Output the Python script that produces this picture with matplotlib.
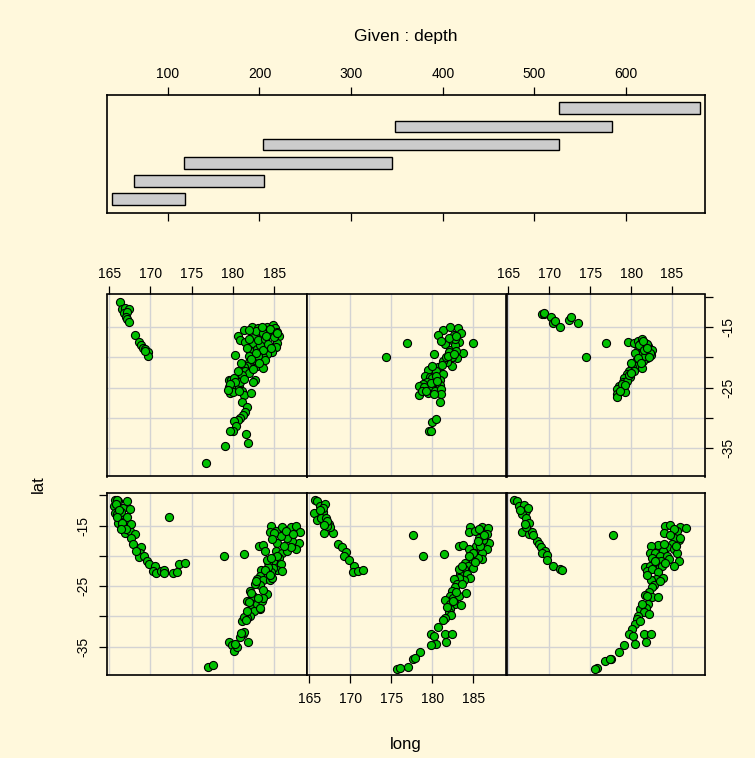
import matplotlib.pyplot as plt

plt.rcParams['font.family'] = ['Liberation Sans', 'DejaVu Sans']

# conditioning intervals of depth (given panel)
depth_lo = [39.5, 63.5, 117.5, 203.5, 347.5, 526.5]
depth_hi = [118.5, 204.5, 344.5, 526.5, 584.5, 680.5]
depth_ticks = [100, 200, 300, 400, 500, 600]

long_ticks = [165, 170, 175, 180, 185]
lat_ticks = [-10, -15, -20, -25, -30, -35]
lat_labels = ['', '-15', '', '-25', '', '-35']

# panel 1 (shallowest, bottom left)
p1_long = [165.7, 166.1, 165.6, 166.3, 165.7, 165.9, 166.7, 167.1, 167.5, 166.5,
           166.9, 166.1, 166.6, 167.3, 166.9, 167.5, 168.1, 167.7, 167.9, 168.9,
           168.7, 168.6, 169.2, 169.6, 169.8, 170.5, 170.3, 170.7, 171.3, 171.6,
           171.7, 172.7, 173.2, 173.5, 174.2, 172.2, 165.9, 166.4, 167.1, 167.6,
           168.3, 178.9, 181.4, 183.2, 183.7, 183.9,
           184.6, 184.5, 185.2, 186.0, 187.0, 187.6, 188.1, 188.0, 187.6, 187.2,
           186.6, 185.9, 185.4, 185.2, 186.0, 186.6, 187.0, 185.6, 184.9, 184.3,
           185.8, 185.4, 186.0, 184.9, 184.6, 184.1, 183.4, 183.3, 182.9, 183.7,
           184.5, 184.8, 183.3, 182.7, 182.1, 182.5, 181.7, 182.3, 182.9, 183.5,
           184.1, 183.7, 183.3, 182.6, 182.1, 181.7, 181.1, 181.3, 181.7, 181.2,
           180.9, 181.4, 181.8, 179.5, 179.9, 180.1, 180.5, 177.0, 177.6, 183.3,
           183.7, 184.3, 184.1,
           165.8, 166.2, 166.0, 166.6, 167.0, 166.4, 185.0, 186.4, 187.3, 184.8,
           186.2, 185.3, 184.6, 183.9, 184.5, 182.8, 182.2, 182.0, 183.0, 181.6,
           181.0, 180.3]
p1_lat = [-10.7, -11.0, -11.8, -12.0, -12.9, -13.1, -12.0, -11.0, -12.3, -13.7,
          -14.2, -14.5, -15.0, -15.2, -16.2, -15.9, -16.3, -17.0, -18.0, -18.6,
          -19.5, -20.2, -20.0, -20.8, -21.4, -21.6, -22.5, -22.9, -22.5, -22.4,
          -22.9, -22.9, -22.6, -21.4, -21.2, -13.5, -10.8, -12.7, -13.6, -14.7,
          -19.2, -20.0, -19.7, -18.4, -18.2, -19.2,
          -15.1, -16.0, -15.9, -15.2, -15.3, -15.1, -16.0, -17.8, -18.9, -17.5,
          -17.0, -16.7, -17.8, -19.2, -19.5, -19.2, -18.6, -20.3, -20.8, -21.0,
          -21.4, -22.4, -22.5, -22.0, -22.7, -23.0, -22.4, -23.3, -23.8, -24.0,
          -24.0, -23.6, -24.8, -24.7, -25.8, -26.6, -27.4, -28.2, -28.0, -27.4,
          -26.3, -26.9, -28.8, -29.1, -29.9, -30.3, -30.7, -30.1, -29.1, -33.0,
          -33.4, -32.6, -34.3, -34.3, -34.8, -35.7, -35.0, -38.4, -38.0, -28.6,
          -25.6, -21.8, -20.6,
          -11.5, -12.4, -13.6, -14.5, -15.5, -15.5, -16.2, -15.9, -16.4, -17.2,
          -18.3, -20.0, -20.3, -22.3, -23.2, -24.2, -26.2, -27.6, -27.0, -30.6,
          -32.8, -34.5]

# panel 2 (bottom middle)
p2_long = [165.7, 166.0, 166.3, 166.95, 165.6, 166.7, 165.9, 166.4, 167.0, 167.4,
           166.8, 167.9, 167.5, 168.5, 169.0, 169.5, 169.2, 169.8, 170.4, 170.3,
           171.0, 171.5, 166.7, 167.2,
           177.7, 178.9, 181.4, 183.2, 183.7, 184.6, 184.5, 185.2, 186.1, 186.8,
           186.7, 186.9, 186.7, 186.2, 185.7, 185.3, 184.5, 185.1, 186.1, 186.1,
           185.5, 184.9, 184.0, 184.4, 185.0, 183.8, 183.4, 184.2, 184.6, 183.8,
           183.2, 182.6, 183.0, 182.8, 182.4, 182.1, 182.5, 183.2, 184.1, 181.6,
           182.1, 182.7, 183.5, 182.2, 182.0, 182.3, 181.5, 181.3, 180.7, 179.8,
           180.2, 181.6, 182.4, 181.7, 180.5, 179.8, 178.5, 177.6, 177.0, 175.7,
           176.0, 177.9, 183.2, 184.6, 185.8,
           166.3, 167.2, 166.8, 185.7, 186.3, 185.5, 184.9, 184.5, 183.6, 183.6,
           182.9, 182.5, 181.8, 185.2]
p2_lat = [-10.7, -10.9, -11.8, -11.5, -12.9, -12.7, -14.1, -13.7, -13.7, -14.7,
          -16.2, -16.2, -15.3, -18.0, -18.6, -19.3, -20.0, -20.7, -21.6, -22.6,
          -22.5, -22.4, -12.0, -15.1,
          -16.5, -20.0, -19.7, -18.4, -18.2, -15.2, -16.0, -15.9, -15.3, -15.4,
          -16.3, -17.8, -18.9, -17.3, -17.0, -18.4, -18.9, -19.5, -19.5, -20.5,
          -20.4, -20.8, -21.1, -21.6, -22.0, -22.2, -23.0, -23.0, -23.6, -24.0,
          -23.6, -23.8, -24.7, -25.2, -25.8, -26.6, -26.9, -26.6, -26.2, -27.3,
          -28.0, -27.9, -28.2, -28.8, -29.3, -29.7, -30.3, -30.6, -31.8, -32.9,
          -33.2, -32.9, -33.0, -34.2, -34.5, -34.7, -35.9, -37.0, -38.3, -38.7,
          -38.5, -36.9, -22.2, -20.0, -18.4,
          -12.4, -14.2, -14.9, -15.6, -16.6, -17.6, -19.6, -20.0, -21.6, -24.6,
          -25.9, -27.5, -28.5, -21.0]

# panel 3 (bottom right)
p3_long = [165.7, 166.1, 166.3, 166.9, 167.1, 166.7, 167.2, 167.5, 166.7, 167.5,
           167.9, 167.2, 168.5, 168.7, 169.0, 169.5, 169.1, 169.7, 169.7, 170.5,
           171.3, 171.6, 167.4,
           177.8, 184.2, 184.8, 186.0, 186.7, 185.6, 184.0, 185.8, 185.2, 185.0,
           184.4, 185.2, 183.3, 182.4, 182.3, 182.9, 183.9, 183.5, 184.4, 182.5,
           183.1, 183.7, 184.6, 185.8, 185.2, 181.7, 182.3, 182.9, 183.5, 183.8,
           181.9, 182.5, 183.3, 183.9, 183.1, 182.4, 182.8, 182.5, 182.2, 181.7,
           182.5, 183.3, 182.1, 181.8, 181.1, 181.6, 182.2, 180.9, 180.7, 180.5,
           180.1, 179.7, 180.2, 181.6, 182.4, 181.8, 180.5, 179.1, 178.5, 177.6,
           176.8, 175.8, 175.6, 177.4, 185.6, 186.0,
           166.4, 167.0, 168.0, 185.2, 184.7, 185.5, 184.0, 182.9, 184.2, 182.0,
           183.5, 182.0, 181.3, 181.1]
p3_lat = [-10.8, -10.9, -11.8, -11.6, -12.5, -13.1, -13.7, -14.5, -16.0, -16.3,
          -16.0, -15.3, -17.5, -18.1, -18.6, -19.2, -19.5, -19.8, -20.7, -21.6,
          -22.2, -22.4, -12.0,
          -16.5, -15.1, -14.9, -15.3, -15.4, -15.9, -16.2, -17.3, -17.0, -18.1,
          -18.6, -18.9, -18.2, -18.4, -19.5, -19.5, -19.2, -20.0, -20.0, -20.4,
          -20.9, -20.8, -20.5, -20.8, -21.6, -21.8, -21.6, -21.9, -21.8, -21.6,
          -22.5, -22.2, -22.7, -23.6, -23.8, -24.0, -24.8, -25.2, -25.9, -26.4,
          -26.8, -26.8, -27.9, -28.6, -28.8, -29.3, -29.6, -29.9, -30.4, -31.2,
          -32.1, -32.9, -33.2, -32.9, -33.0, -34.2, -34.5, -34.7, -35.9, -37.0,
          -37.4, -38.6, -38.7, -37.1, -19.6, -17.0,
          -12.4, -14.8, -16.6, -15.6, -16.6, -18.4, -18.0, -20.8, -21.2, -23.2,
          -24.2, -26.6, -28.0, -30.8]

# panel 4 (top left)
p4_long = [166.3, 166.5, 166.9, 167.4, 166.8, 167.1, 167.0, 167.2, 167.4, 168.1,
           168.6, 168.9, 169.1, 169.4, 169.7, 169.7, 169.3,
           181.4, 180.6, 180.9, 181.5, 182.3, 183.1, 184.1, 184.9, 185.1, 185.6,
           185.4, 185.2, 184.8, 184.1, 183.7, 182.9, 183.6, 182.7, 182.8, 183.6,
           184.6, 182.3, 182.5, 182.1, 182.9, 183.3, 183.7, 182.4, 182.7, 182.0,
           181.7, 181.4, 181.5, 181.9, 182.7, 182.5, 180.2, 181.1, 179.5, 179.8,
           180.1, 180.5, 179.5, 179.9, 180.3, 179.6, 180.0, 180.7, 180.9, 181.1,
           181.3, 182.2, 181.1, 181.7, 181.5, 181.2, 180.9, 180.6, 180.1, 180.4,
           180.0, 179.6, 181.6, 181.8, 179.1, 176.7, 183.1, 183.9, 184.3, 185.0,
           181.9, 183.1, 182.5,
           182.0, 183.5, 184.5, 185.3, 184.0, 182.0, 181.7, 182.8, 183.9, 182.2,
           181.0, 180.6, 180.2, 179.7, 180.8, 179.4, 185.3, 184.6, 183.2, 181.3]
p4_lat = [-10.9, -12.0, -11.9, -12.0, -12.6, -12.5, -13.4, -13.6, -14.2, -16.3,
          -17.4, -17.9, -18.4, -18.6, -19.1, -19.7, -18.9,
          -15.4, -16.4, -17.2, -17.5, -14.9, -15.1, -14.9, -14.7, -15.2, -16.4,
          -17.6, -18.3, -19.1, -19.4, -20.0, -21.4, -21.7, -16.4, -15.6, -16.0,
          -15.7, -18.2, -17.6, -18.9, -18.6, -17.9, -18.7, -19.7, -20.4, -20.8,
          -21.4, -21.6, -22.2, -22.6, -23.7, -24.0, -19.6, -22.9, -23.8, -23.7,
          -23.4, -24.4, -24.9, -25.2, -25.1, -25.9, -25.8, -24.9, -24.1, -25.5,
          -26.2, -25.9, -27.3, -28.2, -29.0, -29.6, -30.1, -30.3, -30.6, -31.3,
          -32.1, -32.1, -32.6, -34.1, -34.6, -37.4, -17.2, -16.9, -17.8, -16.7,
          -19.7, -19.7, -21.9,
          -15.5, -15.0, -15.3, -15.8, -16.5, -17.0, -18.5, -19.2, -20.5, -20.3,
          -21.0, -22.3, -24.0, -24.4, -25.6, -25.4, -16.0, -18.5, -20.9, -23.5]

# panel 5 (top middle)
p5_long = [174.3, 176.9, 180.2, 184.9, 181.3, 182.2, 183.1, 183.5, 180.7, 182.6,
           183.2, 181.6, 181.1, 182.4, 182.2, 182.7, 183.7, 183.0, 182.4, 182.4,
           181.8, 181.3, 180.7, 180.1, 179.5, 179.1, 179.7, 180.5, 181.3, 180.9,
           180.0, 179.3, 178.9, 178.4, 178.4, 179.5, 179.8, 180.3, 180.9, 181.1,
           181.0, 180.9, 179.0, 178.7, 180.0, 180.5, 179.6, 179.8, 182.0, 182.8,
           181.7, 182.9, 180.5,
           182.0, 181.9, 182.9, 180.0, 179.8, 180.6, 179.2, 180.2, 181.2, 182.6]
p5_lat = [-19.9, -17.6, -19.5, -17.7, -15.4, -14.9, -15.2, -16.0, -16.3, -16.3,
          -17.5, -17.8, -17.3, -17.2, -18.8, -18.0, -19.2, -20.1, -20.0, -21.5,
          -20.8, -20.6, -21.6, -22.2, -22.1, -23.0, -23.3, -22.2, -22.7, -23.7,
          -23.4, -24.0, -24.4, -24.7, -26.2, -25.9, -24.8, -25.5, -24.6, -25.2,
          -26.1, -27.3, -24.9, -25.5, -30.7, -30.2, -32.2, -32.1, -19.1, -16.9,
          -20.0, -18.9, -23.0,
          -16.8, -19.8, -16.5, -21.4, -24.2, -23.9, -25.6, -26.0, -21.2, -19.5]

# panel 6 (deepest, top right)
p6_long = [169.1, 169.4, 169.3, 170.2, 170.4, 170.7, 171.3, 172.4, 172.7, 173.5,
           176.95, 174.5, 179.6, 180.3, 180.9, 181.3, 181.7, 182.1, 182.5, 182.4,
           182.0, 181.5, 180.9, 181.3, 180.5, 181.9, 181.4, 180.6, 180.7, 181.3,
           180.1, 179.7, 180.4, 179.5, 179.9, 179.1, 179.0, 179.5, 178.5, 178.3,
           178.9, 178.3, 178.3, 179.3, 181.9, 181.1, 181.7, 182.3,
           181.0, 181.6, 182.2, 180.9, 181.2, 180.0, 179.8, 180.0, 179.3, 178.7,
           181.5, 182.0]
p6_lat = [-12.9, -12.9, -12.6, -13.3, -14.3, -13.9, -14.9, -13.8, -13.3, -14.3,
          -17.6, -19.9, -17.5, -17.7, -17.3, -17.0, -17.6, -18.1, -18.8, -19.6,
          -20.1, -20.6, -18.7, -18.4, -19.2, -18.7, -19.2, -20.6, -21.4, -21.8,
          -21.6, -22.2, -22.3, -22.8, -23.3, -23.4, -24.1, -23.9, -24.7, -25.2,
          -24.4, -26.1, -26.6, -25.8, -17.8, -17.8, -19.7, -19.2,
          -18.0, -18.7, -19.9, -20.1, -20.9, -21.0, -22.9, -22.6, -24.6, -25.5,
          -17.3, -18.4]

panels_long = [p1_long, p2_long, p3_long, p4_long, p5_long, p6_long]
panels_lat = [p1_lat, p2_lat, p3_lat, p4_lat, p5_lat, p6_lat]

W, H = 755, 758
bg = '#FFF8DC'
fig = plt.figure(figsize=(W / 100, H / 100), dpi=100, facecolor=bg)


def add_box(x0, y0, x1, y1):
    return fig.add_axes([x0 / W, 1 - y1 / H, (x1 - x0) / W, (y1 - y0) / H])


# given panel
g = add_box(107.3, 94.7, 705, 212.7)
g.set_facecolor(bg)
for i in range(6):
    g.barh(i + 1, depth_hi[i] - depth_lo[i], left=depth_lo[i], height=0.64,
           color='#CCCCCC', edgecolor='black', linewidth=1.0)
g.set_xlim(34, 686)
g.set_ylim(0.26, 6.74)
g.set_yticks([])
g.set_xticks(depth_ticks)
g.tick_params(axis='x', top=True, bottom=True, labeltop=True, labelbottom=False,
              direction='out', length=6, width=0.9, labelsize=10, pad=4)
for s in g.spines.values():
    s.set_linewidth(1.2)
fig.text(406 / W, 1 - 37 / H, 'Given : depth', ha='center', va='center', fontsize=12.5)

cols = [(107.3, 307.3), (307.3, 506.5), (506.5, 705)]
rows = [(493, 675), (294.5, 476.5)]  # bottom row first

for k in range(6):
    r, c = divmod(k, 3)
    x0, x1 = cols[c]
    y0, y1 = rows[r]
    ax = add_box(x0, y0, x1, y1)
    ax.set_facecolor(bg)
    ax.set_xlim(164.77, 189.03)
    ax.set_ylim(-39.7, -9.6)
    for v in long_ticks:
        ax.axvline(v, color='#D3D3D3', lw=1.0, zorder=1)
    for v in lat_ticks[1:]:
        ax.axhline(v, color='#D3D3D3', lw=1.0, zorder=1)
    ax.scatter(panels_long[k], panels_lat[k], s=34, c='#00C000',
               edgecolors='black', linewidths=0.8, zorder=3, clip_on=False)
    for s in ax.spines.values():
        s.set_linewidth(1.2)
    ax.set_xticks(long_ticks)
    ax.set_yticks(lat_ticks)
    ax.set_yticklabels(lat_labels, rotation=90, va='center')
    ax.tick_params(direction='out', length=6, width=0.9, labelsize=10,
                   bottom=False, top=False, left=False, right=False,
                   labelbottom=False, labeltop=False, labelleft=False, labelright=False)
    if r == 1 and c in (0, 2):
        ax.tick_params(axis='x', top=True, labeltop=True, pad=4)
    if r == 0 and c == 1:
        ax.tick_params(axis='x', bottom=True, labelbottom=True, pad=6)
    if r == 0 and c == 0:
        ax.tick_params(axis='y', left=True, labelleft=True, pad=6)
    if r == 1 and c == 2:
        ax.tick_params(axis='y', right=True, labelright=True, pad=6)

fig.text(406 / W, 1 - 745 / H, 'long', ha='center', va='center', fontsize=12)
fig.text(38 / W, 1 - 484 / H, 'lat', ha='center', va='center', fontsize=12, rotation=90)

fig.savefig('out.png', dpi=100, facecolor=bg)
